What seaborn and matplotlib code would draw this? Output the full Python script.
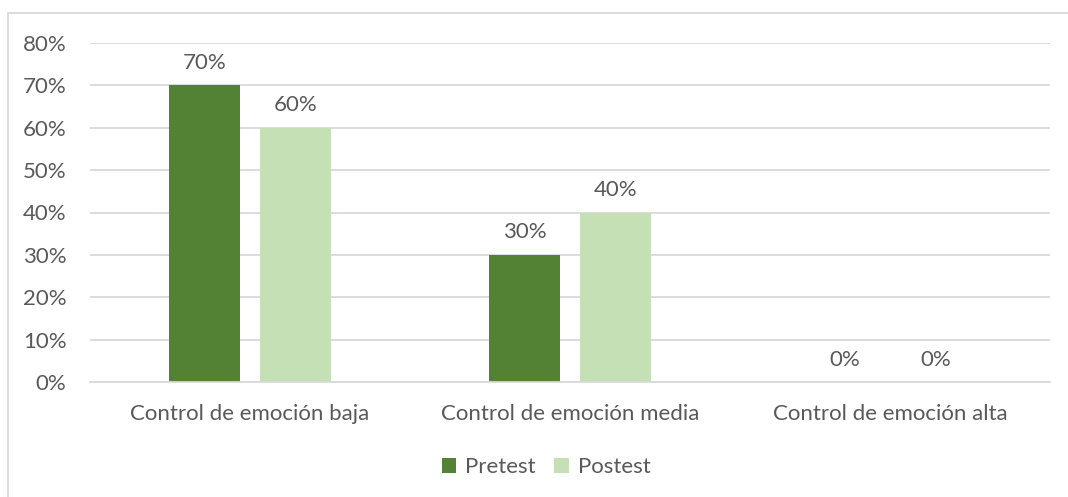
import matplotlib
matplotlib.use("Agg")
import matplotlib.pyplot as plt
import seaborn as sns
import pandas as pd
from matplotlib.patches import Rectangle, Patch
from matplotlib.ticker import FuncFormatter

categories = ["Control de emoción baja", "Control de emoción media", "Control de emoción alta"]
series = ["Pretest", "Postest"]
pretest = [70, 30, 0]
postest = [60, 40, 0]
yticks = [0, 10, 20, 30, 40, 50, 60, 70, 80]

colors = {"Pretest": "#548235", "Postest": "#C5E0B4"}
text_color = "#595959"
grid_color = "#D9D9D9"

df = pd.DataFrame({
    "Categoría": categories * 2,
    "Serie": ["Pretest"] * 3 + ["Postest"] * 3,
    "Valor": pretest + postest,
})

sns.set_theme(style="white")
plt.rcParams["font.family"] = ["Lato", "DejaVu Sans"]
fs = 16

fig = plt.figure(figsize=(10.68, 4.97), dpi=100)
W, H = 1068, 497
ax = fig.add_axes([90 / W, 1 - 382 / H, 960 / W, (382 - 43) / H])

sns.barplot(data=df, x="Categoría", y="Valor", hue="Serie", hue_order=series,
            palette=colors, order=categories, width=0.569, gap=0.22,
            saturation=1, linewidth=0, ax=ax, legend=False)

ax.set_ylim(0, 80)
ax.set_yticks(yticks)
ax.yaxis.set_major_formatter(FuncFormatter(lambda v, p: f"{v:.0f}%"))
ax.set_xlim(-0.5, 2.5)
ax.grid(axis="y", color=grid_color, linewidth=1.3)
ax.set_axisbelow(True)
for s in ["top", "right", "left"]:
    ax.spines[s].set_visible(False)
ax.spines["bottom"].set_color(grid_color)
ax.spines["bottom"].set_linewidth(1.3)
ax.set_xlabel("")
ax.set_ylabel("")
ax.tick_params(axis="both", length=0, colors=text_color, labelsize=fs)
ax.tick_params(axis="x", pad=16)
ax.tick_params(axis="y", pad=17)

for cont in ax.containers:
    ax.bar_label(cont, labels=[f"{v:.0f}%" for v in cont.datavalues],
                 padding=9, color=text_color, fontsize=fs)

handles = [Patch(facecolor=colors[s], edgecolor="none") for s in series]
fig.legend(handles, series, loc="center", bbox_to_anchor=(546 / W, 1 - 467 / H),
           ncol=2, frameon=False, fontsize=fs, handlelength=0.65, handleheight=0.65,
           handletextpad=0.4, columnspacing=0.85, labelcolor=text_color)

# chart area frame
fig.patches.append(Rectangle((8 / W, -0.1), 1.2, 1 - 13 / H + 0.1,
                             transform=fig.transFigure, fill=False,
                             edgecolor=grid_color, linewidth=1.3))

fig.savefig("out.png", dpi=100)
